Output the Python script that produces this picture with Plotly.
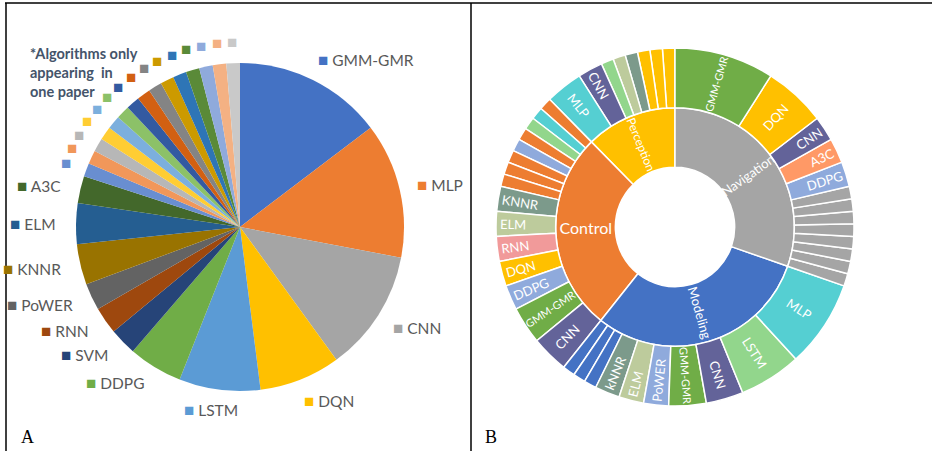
import math
import plotly.graph_objects as go

# ---------------- data: panel A (pie) ----------------
pie_labels = ["GMM-GMR", "MLP", "CNN", "DQN", "LSTM", "DDPG", "SVM", "RNN",
              "PoWER", "KNNR", "ELM", "A3C"] + [f"Single-paper algorithm {i}" for i in range(1, 16)]
pie_values = [11, 10, 9, 6, 6, 4, 2, 2, 2, 3, 3, 2] + [1] * 15
pie_colors = ["#4472C4", "#ED7D31", "#A5A5A5", "#FFC000", "#5B9BD5", "#70AD47",
              "#264478", "#9E480E", "#636363", "#997300", "#255E91", "#43682B",
              "#698ED0", "#F1975A", "#B7B7B7", "#FFCD33", "#7CAFDD", "#8CC168",
              "#335AA1", "#D26012", "#848484", "#CC9A00", "#2E75B6", "#5A8A38",
              "#8FAADC", "#F4B183", "#C9C9C9"]
pie_show_text = [True] * 12 + [False] * 15
note_text = "*Algorithms only<br>appearing  in<br>one paper"

# ---------------- data: panel B (sunburst) ----------------
# (id, label, parent, value, color) in clockwise order from 12 o'clock
sb_rows = [
    ("Navigation", "Navigation", "root", 27, "#A5A5A5"),
    ("Modeling", "Modeling", "root", 27, "#4472C4"),
    ("Control", "Control", "root", 24, "#ED7D31"),
    ("Perception", "Perception", "root", 11, "#FFC000"),
    # Navigation children
    ("N-GMM", "GMM-GMR", "Navigation", 8, "#70AD47"),
    ("N-DQN", "DQN", "Navigation", 5, "#FFC000"),
    ("N-CNN", "CNN", "Navigation", 2, "#636399"),
    ("N-A3C", "A3C", "Navigation", 2, "#FF9966"),
    ("N-DDPG", "DDPG", "Navigation", 2, "#8FAADC"),
] + [(f"N-s{i}", "", "Navigation", 1, "#A5A5A5") for i in range(8)] + [
    # Modeling children
    ("M-MLP", "MLP", "Modeling", 7, "#55CFD2"),
    ("M-LSTM", "LSTM", "Modeling", 5, "#92D68C"),
    ("M-CNN", "CNN", "Modeling", 3, "#636399"),
    ("M-GMM", "GMM-GMR", "Modeling", 3, "#70AD47"),
    ("M-PoWER", "PoWER", "Modeling", 2, "#8FAADC"),
    ("M-ELM", "ELM", "Modeling", 2, "#BDCB9C"),
    ("M-kNNR", "kNNR", "Modeling", 2, "#7C9A8B"),
] + [(f"M-s{i}", "", "Modeling", 1, "#4472C4") for i in range(3)] + [
    # Control children
    ("C-CNN", "CNN", "Control", 3, "#636399"),
    ("C-GMM", "GMM-GMR", "Control", 3, "#70AD47"),
    ("C-DDPG", "DDPG", "Control", 2, "#8FAADC"),
    ("C-DQN", "DQN", "Control", 2, "#FFC000"),
    ("C-RNN", "RNN", "Control", 2, "#F19A9A"),
    ("C-ELM", "ELM", "Control", 2, "#BDCB9C"),
    ("C-KNNR", "KNNR", "Control", 2, "#7C9A8B"),
    ("C-s0", "", "Control", 1, "#ED7D31"),
    ("C-s1", "", "Control", 1, "#ED7D31"),
    ("C-s2", "", "Control", 1, "#ED7D31"),
    ("C-s3", "", "Control", 1, "#8FAADC"),
    ("C-s4", "", "Control", 1, "#ED7D31"),
    ("C-s5", "", "Control", 1, "#92D68C"),
    ("C-s6", "", "Control", 1, "#55CFD2"),
    ("C-s7", "", "Control", 1, "#ED7D31"),
    # Perception children
    ("P-MLP", "MLP", "Perception", 3, "#55CFD2"),
    ("P-CNN", "CNN", "Perception", 2, "#636399"),
    ("P-s0", "", "Perception", 1, "#92D68C"),
    ("P-s1", "", "Perception", 1, "#BDCB9C"),
    ("P-s2", "", "Perception", 1, "#7C9A8B"),
    ("P-s3", "", "Perception", 1, "#FFC000"),
    ("P-s4", "", "Perception", 1, "#FFC000"),
    ("P-s5", "", "Perception", 1, "#FFC000"),
]
# inner-ring labels drawn as rotated annotations (radial at the mid angle)
sb_annotated = ["Navigation"]

# ---------------- layout constants ----------------
W, H = 932, 451
PIE_CX, PIE_CY, PIE_R = 240, 227, 164
SB_CX, SB_CY, SB_R = 675, 227, 179


def px(x):
    return x / W


def py(y):
    return 1 - y / H


fig = go.Figure()

fig.add_trace(go.Pie(
    labels=pie_labels, values=pie_values, sort=False, direction="clockwise",
    rotation=0, marker=dict(colors=pie_colors, line=dict(width=0)),
    textinfo="none", hoverinfo="label+value", showlegend=False,
    domain=dict(x=[px(PIE_CX - PIE_R), px(PIE_CX + PIE_R)],
                y=[py(PIE_CY + PIE_R), py(PIE_CY - PIE_R)]),
))

# sunburst: plotly draws counter-clockwise, so reverse sibling order
root_total = sum(r[3] for r in sb_rows if r[2] == "root")
root = ("root", "", "", root_total, "#FFFFFF")
groups = {}
for r in sb_rows:
    groups.setdefault(r[2], []).append(r)
ordered = [root]
for parent in ["root", "Navigation", "Modeling", "Control", "Perception"]:
    ordered += list(reversed(groups[parent]))

sb_ids = [r[0] for r in ordered]
sb_text = ["" if r[0] in sb_annotated else r[1] for r in ordered]
sb_parents = [r[2] for r in ordered]
sb_values = [r[3] for r in ordered]
sb_colors = [r[4] for r in ordered]
sb_sizes = [16 if t == "Control" else 13 for t in sb_text]

fig.add_trace(go.Sunburst(
    ids=sb_ids, labels=sb_ids, parents=sb_parents, values=sb_values,
    text=sb_text, texttemplate="%{text}", branchvalues="total", sort=False,
    rotation=90, insidetextorientation="radial",
    marker=dict(colors=sb_colors, line=dict(color="white", width=1.5)),
    leaf=dict(opacity=1),
    textfont=dict(family="Lato", color="white", size=sb_sizes),
    hoverinfo="text",
    domain=dict(x=[px(SB_CX - SB_R), px(SB_CX + SB_R)],
                y=[py(SB_CY + SB_R), py(SB_CY - SB_R)]),
))

annotations = []

# rotated inner-ring labels (computed from the sunburst values)
ring_w = SB_R / 3.0
cum = 0
for r in groups["root"]:
    mid_deg = (cum + r[3] / 2) / root_total * 360
    cum += r[3]
    if r[0] in sb_annotated:
        a = math.radians(mid_deg)
        rad = ring_w * 1.5
        annotations.append(dict(
            x=px(SB_CX + rad * math.sin(a)), y=py(SB_CY - rad * math.cos(a)),
            xref="paper", yref="paper", text=r[1], showarrow=False,
            textangle=mid_deg - 90 if mid_deg < 180 else mid_deg - 270,
            xanchor="center", yanchor="middle",
            font=dict(family="Lato", size=13, color="white"),
        ))

# pie callout labels positioned from the slice angles
total = sum(pie_values)
cum = 0
for lab, val, col, show in zip(pie_labels, pie_values, pie_colors, pie_show_text):
    mid = (cum + val / 2) / total * 2 * math.pi
    cum += val
    s, c = math.sin(mid), math.cos(mid)
    sq = f'<span style="color:{col};font-size:17px">■</span>'
    if show:
        if s > 0.25:
            r, xa, xs = 187, "left", -7
        elif s < -0.25:
            r, xa, xs = 182, "right", 0
        else:
            r, xa, xs = 184, "center", -6
        text = f'{sq} {lab}'
    else:
        r, xa, xs = 186, "center", 0
        text = sq
    annotations.append(dict(
        x=px(PIE_CX + r * s), y=py(PIE_CY - r * c), xref="paper", yref="paper",
        text=text, showarrow=False, xanchor=xa, yanchor="middle", xshift=xs,
        font=dict(family="Lato", size=15.5, color="#595959"),
    ))

annotations.append(dict(
    x=px(28), y=py(72), xref="paper", yref="paper", text=f"<b>{note_text}</b>",
    showarrow=False, xanchor="left", yanchor="middle", align="left",
    font=dict(family="Lato", size=14.5, color="#44546A"),
))
annotations.append(dict(x=px(19), y=py(437), xref="paper", yref="paper", text="A",
                        showarrow=False, xanchor="left", yanchor="middle",
                        font=dict(family="Liberation Serif", size=18, color="black")))
annotations.append(dict(x=px(483), y=py(437), xref="paper", yref="paper", text="B",
                        showarrow=False, xanchor="left", yanchor="middle",
                        font=dict(family="Liberation Serif", size=18, color="black")))

shapes = [
    dict(type="line", xref="paper", yref="paper", x0=px(5), x1=1, y0=py(3), y1=py(3),
         line=dict(color="black", width=1.5)),
    dict(type="line", xref="paper", yref="paper", x0=px(6), x1=px(6), y0=py(3), y1=0,
         line=dict(color="black", width=1.5)),
    dict(type="line", xref="paper", yref="paper", x0=px(471), x1=px(471), y0=py(3), y1=0,
         line=dict(color="black", width=1.5)),
]

fig.update_layout(
    width=W, height=H, margin=dict(l=0, r=0, t=0, b=0),
    paper_bgcolor="white", plot_bgcolor="white",
    annotations=annotations, shapes=shapes, showlegend=False,
)

fig.write_html("out.html", config={"displayModeBar": False},
               post_script="document.body.style.margin='0';document.body.style.overflow='hidden';")
